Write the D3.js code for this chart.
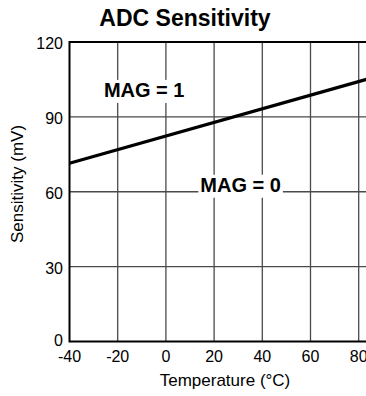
<!DOCTYPE html>
<html><head><meta charset="utf-8">
<script src="https://cdn.jsdelivr.net/npm/d3@7"></script>
<style>body{margin:0;background:#fff;} svg{display:block;font-family:"Liberation Sans",Arial,sans-serif;}</style>
</head><body>
<script>
const temps = [-40, 85];
const sensitivity = [71.4, 105.5];
const xTicks = [-40, -20, 0, 20, 40, 60, 80];
const yTicks = [0, 30, 60, 90, 120];
const labels = ["MAG = 1", "MAG = 0"];
const labelPos = [[-9, 98], [31, 60]];

const W = 366, H = 396;
const svg = d3.select("body").append("svg").attr("width", W).attr("height", H);
const x = d3.scaleLinear().domain([-40, 80]).range([69.5, 358.7]);
const y = d3.scaleLinear().domain([0, 120]).range([341.5, 42]);
const xMax = 90;

// grid
svg.append("g").selectAll("line").data(xTicks.slice(1)).join("line")
  .attr("x1", d => x(d)).attr("x2", d => x(d)).attr("y1", y(120)).attr("y2", y(0))
  .attr("stroke", "#4a4a4a").attr("stroke-width", 1.3);
svg.append("g").selectAll("line").data(yTicks.slice(1, -1)).join("line")
  .attr("x1", x(-40)).attr("x2", x(xMax)).attr("y1", d => y(d)).attr("y2", d => y(d))
  .attr("stroke", "#4a4a4a").attr("stroke-width", 1.3);

// frame
svg.append("path").attr("d", `M${x(xMax)},${y(120)}H${x(-40)}V${y(0)}H${x(xMax)}`)
  .attr("fill", "none").attr("stroke", "#000").attr("stroke-width", 2);

// tick labels
svg.append("g").selectAll("text").data(xTicks).join("text")
  .attr("x", d => x(d)).attr("y", 362).attr("text-anchor", "middle")
  .attr("font-size", 16).text(d => d);
svg.append("g").selectAll("text").data(yTicks).join("text")
  .attr("x", 63).attr("y", d => y(d) + (d === 0 ? 4.5 : 7)).attr("text-anchor", "end")
  .attr("font-size", 16).text(d => d);

// data line
const line = d3.line().x(d => x(d[0])).y(d => y(d[1]));
svg.append("path").datum(temps.map((t, i) => [t, sensitivity[i]]))
  .attr("d", line).attr("fill", "none").attr("stroke", "#000").attr("stroke-width", 3.2);

// labels with white backing
labels.forEach((t, i) => {
  const g = svg.append("g");
  const txt = g.append("text").attr("x", x(labelPos[i][0])).attr("y", y(labelPos[i][1]))
    .attr("text-anchor", "middle").attr("font-size", 20).attr("font-weight", "bold").text(t);
  const b = txt.node().getBBox();
  g.insert("rect", "text").attr("x", b.x - 2).attr("y", b.y + 1).attr("width", b.width + 4)
    .attr("height", b.height + 1).attr("fill", "#fff");
});

// titles
svg.append("text").attr("x", 185).attr("y", 26).attr("text-anchor", "middle")
  .attr("font-size", 23).attr("font-weight", "bold").text("ADC Sensitivity");
svg.append("text").attr("x", 225).attr("y", 386).attr("text-anchor", "middle")
  .attr("font-size", 17).text("Temperature (°C)");
svg.append("text").attr("transform", "translate(23,184) rotate(-90)").attr("text-anchor", "middle")
  .attr("font-size", 17).text("Sensitivity (mV)");
</script>
</body></html>
